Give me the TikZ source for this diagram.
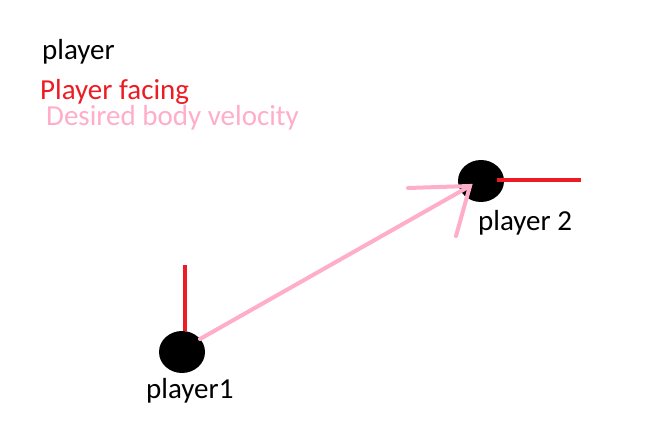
\documentclass[tikz,border=0pt]{standalone}
\usepackage{fontspec}
\setmainfont{Carlito}
\usetikzlibrary{shapes.geometric}
\definecolor{pred}{HTML}{ED1C24}
\definecolor{ppink}{HTML}{FFAEC9}
\tikzset{
  lbl/.style={anchor=base west, inner sep=0pt, font=\fontsize{29}{32}\selectfont},
  blob/.style={ellipse, fill=black, inner sep=0pt},
  facing/.style={draw=pred, line width=4.5pt},
  velo/.style={draw=ppink, line width=4pt, line cap=round},
}
\begin{document}
\begin{tikzpicture}[x=1pt,y=-1pt]
\useasboundingbox[fill=white] (0,0) rectangle (645,446);
% legend
\node[lbl] (legplayer) at (42,60) {player};
\node[lbl, text=pred] (legfacing) at (40,100) {Player facing};
\node[lbl, text=ppink] (legvel) at (46,126) {Desired body velocity};
% players
\node[blob, minimum width=46pt, minimum height=42pt] (p1) at (182,352) {};
\node[blob, minimum width=46pt, minimum height=42pt] (p2) at (481,181) {};
\node[lbl] (p1lbl) at (146,398) {player1};
\node[lbl] (p2lbl) at (478,231) {player 2};
% facing
\coordinate (f1) at (185,265);
\coordinate (f2) at (581,180);
\draw[facing] (p1.north) ++(3,0) coordinate (p1top) -- (f1);
\draw[facing] (p2.center) ++(16,-1) coordinate (p2r) -- (f2);
% velocity arrow
\coordinate (tip) at (470,186);
\coordinate (h1) at (408,188);
\coordinate (h2) at (456,236);
\draw[velo] (p1.center) ++(18,-13) coordinate (vs) -- (tip);
\draw[velo] (h1) -- (tip) -- (h2);
\end{tikzpicture}
\end{document}
